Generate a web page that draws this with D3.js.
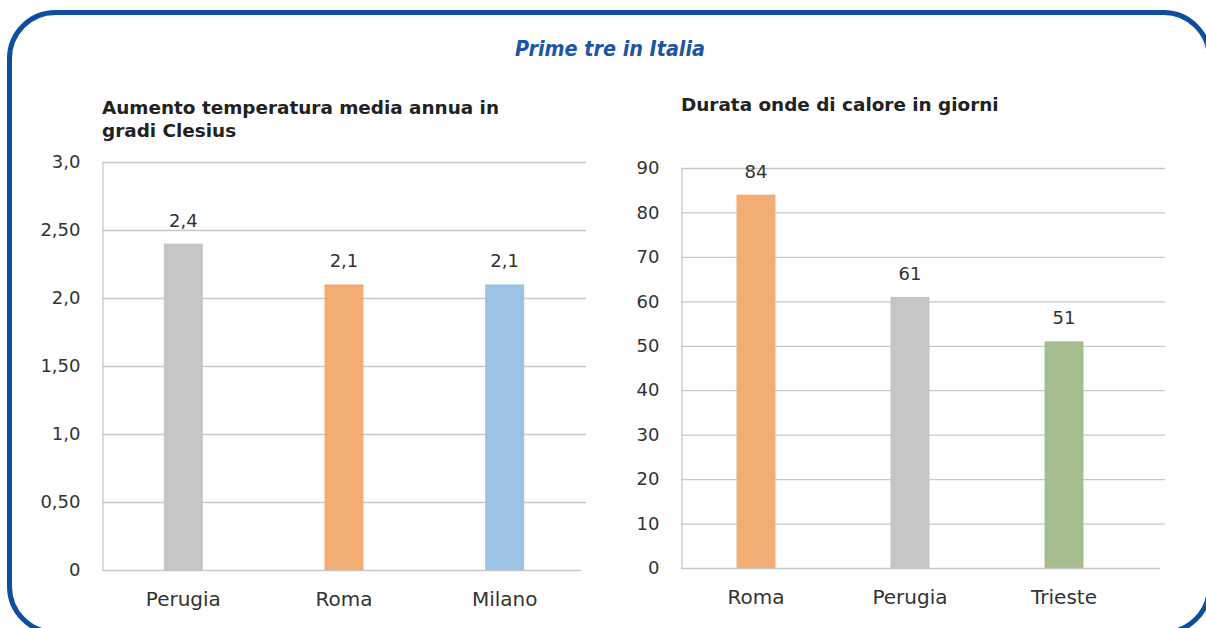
<!DOCTYPE html>
<html>
<head>
<meta charset="utf-8">
<script src="https://cdn.jsdelivr.net/npm/d3@7"></script>
<style>
  html, body { margin: 0; padding: 0; background: #fff; }
  svg { display: block; }
  text { font-family: "DejaVu Sans", sans-serif; fill: #333; }
</style>
</head>
<body>
<svg width="1206" height="628"></svg>
<script>
// left chart: temperature increase
const tempCities = ["Perugia", "Roma", "Milano"];
const tempValues = [2.4, 2.1, 2.1];
const tempValueLabels = ["2,4", "2,1", "2,1"];
const tempTicks = [0, 0.5, 1, 1.5, 2, 2.5, 3];
const tempTickLabels = ["0", "0,50", "1,0", "1,50", "2,0", "2,50", "3,0"];

// right chart: heat wave duration
const heatCities = ["Roma", "Perugia", "Trieste"];
const heatValues = [84, 61, 51];
const heatTicks = [0, 10, 20, 30, 40, 50, 60, 70, 80, 90];

const mainTitle = "Prime tre in Italia";
const tempTitle = ["Aumento temperatura media annua in", "gradi Clesius"];
const heatTitle = ["Durata onde di calore in giorni"];

const cityColor = {
    "Perugia": "#c6c5c3",
    "Roma": "#f2ad74",
    "Milano": "#9cc2e5",
    "Trieste": "#a5bd8f"
};
const gridColor = "#c8c8c8";
const frameBlue = "#0d4f9f";

const svg = d3.select("svg");

// blue rounded frame, runs off the right and bottom edges
svg.append("rect")
    .attr("x", 9.5).attr("y", 12.5)
    .attr("width", 1200).attr("height", 620)
    .attr("rx", 46).attr("ry", 46)
    .attr("fill", "none")
    .attr("stroke", frameBlue)
    .attr("stroke-width", 5);

svg.append("text")
    .attr("x", 610).attr("y", 56)
    .attr("text-anchor", "middle")
    .attr("textLength", 190)
    .attr("lengthAdjust", "spacingAndGlyphs")
    .style("font-size", "21px")
    .style("font-weight", "bold")
    .style("font-style", "italic")
    .style("fill", "#1c56a6")
    .text(mainTitle);

function barChart(opt) {
    const g = svg.append("g");
    const x = d3.scaleBand().domain(opt.cities).range(opt.xRange);
    const y = d3.scaleLinear().domain(opt.domain).range([opt.bottom, opt.top]);
    const barW = 39;

    // title
    g.append("text")
        .attr("x", opt.gridX[0]).attr("y", opt.titleY)
        .style("font-size", "18.4px").style("font-weight", "bold")
        .style("fill", "#222")
        .selectAll("tspan").data(opt.title).enter().append("tspan")
        .attr("x", opt.gridX[0])
        .attr("dy", (d, i) => i === 0 ? 0 : 23)
        .text(d => d);

    // gridlines
    g.selectAll("line.grid").data(opt.ticks.slice(1)).enter().append("line")
        .attr("class", "grid")
        .attr("x1", opt.gridX[0]).attr("x2", opt.gridX[1])
        .attr("y1", d => y(d) + 0.5).attr("y2", d => y(d) + 0.5)
        .attr("stroke", gridColor).attr("stroke-width", 1.3);

    // y axis
    const yAxis = d3.axisLeft(y).tickValues(opt.ticks).tickSize(0).tickPadding(22)
        .tickFormat((d, i) => opt.tickLabels[i]);
    const gy = g.append("g").attr("transform", `translate(${opt.gridX[0] + 0.5},0)`).call(yAxis);
    gy.select(".domain").attr("stroke", gridColor).attr("stroke-width", 1.3);
    gy.selectAll("text").style("font-size", "18px").style("fill", "#333")
        .attr("font-family", null);

    // bars
    g.selectAll("rect.bar").data(opt.cities).enter().append("rect")
        .attr("class", "bar")
        .attr("x", d => x(d) + x.bandwidth() / 2 - barW / 2)
        .attr("width", barW)
        .attr("y", (d, i) => y(opt.values[i]))
        .attr("height", (d, i) => y(0) - y(opt.values[i]))
        .attr("fill", d => cityColor[d]);

    // x axis
    const xAxis = d3.axisBottom(x).tickSize(0).tickPadding(21);
    const gx = g.append("g").attr("transform", `translate(0,${y(0) + 0.5})`).call(xAxis);
    gx.select(".domain").remove();
    gx.append("line")
        .attr("x1", opt.gridX[0]).attr("x2", opt.gridX[1] - 5)
        .attr("stroke", gridColor).attr("stroke-width", 1.3);
    gx.selectAll("text").style("font-size", "20px").style("fill", "#333")
        .attr("font-family", null);

    // value labels
    g.selectAll("text.val").data(opt.cities).enter().append("text")
        .attr("class", "val")
        .attr("x", d => x(d) + x.bandwidth() / 2)
        .attr("y", (d, i) => y(opt.values[i]) - 17)
        .attr("text-anchor", "middle")
        .style("font-size", "18px")
        .text((d, i) => opt.valueLabels[i]);
}

barChart({
    cities: tempCities,
    values: tempValues,
    valueLabels: tempValueLabels,
    ticks: tempTicks,
    tickLabels: tempTickLabels,
    domain: [0, 3],
    xRange: [103, 585],
    gridX: [102, 586],
    top: 162, bottom: 570,
    title: tempTitle, titleY: 114
});

barChart({
    cities: heatCities,
    values: heatValues,
    valueLabels: heatValues.map(String),
    ticks: heatTicks,
    tickLabels: heatTicks.map(String),
    domain: [0, 90],
    xRange: [679, 1141],
    gridX: [681, 1165],
    top: 168, bottom: 568,
    title: heatTitle, titleY: 111
});
</script>
</body>
</html>
